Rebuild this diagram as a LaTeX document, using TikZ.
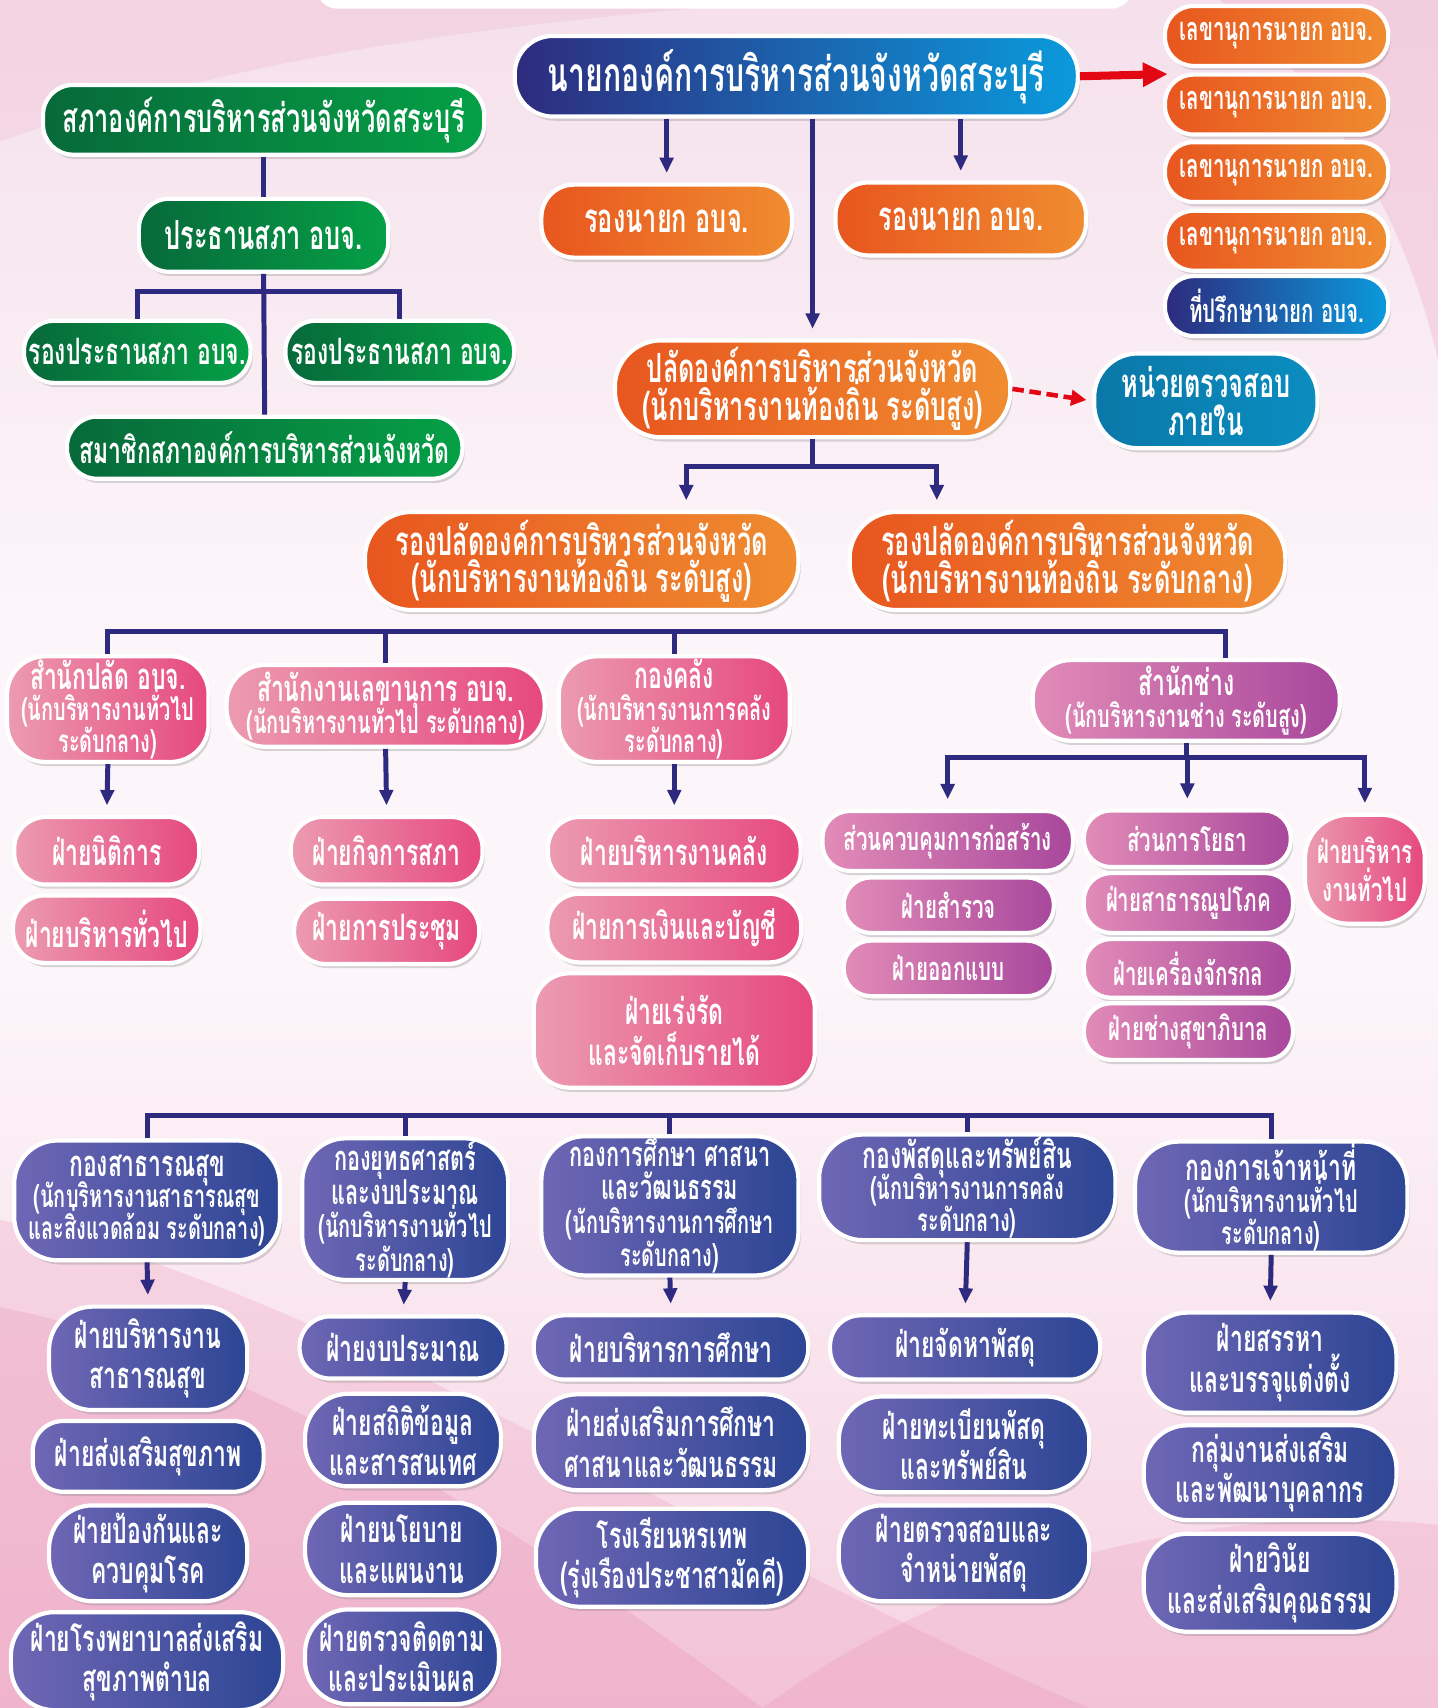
\documentclass[tikz,border=0pt]{standalone}
\usepackage{fontspec}
\setmainfont{Loma}[Script=Thai, FakeStretch=0.63]
\usetikzlibrary{arrows.meta, shadows}

\definecolor{bgtop}{HTML}{F5E0EB}
\definecolor{bgmid}{HTML}{FCF5F9}
\definecolor{bgbot}{HTML}{F6D3E2}
\definecolor{wavepink}{HTML}{E98AB0}
\definecolor{linkblue}{HTML}{2E2A7F}
\definecolor{alertred}{HTML}{E30613}
\definecolor{greenL}{HTML}{07693A}
\definecolor{greenR}{HTML}{05A046}
\definecolor{navyL}{HTML}{2E2B7E}
\definecolor{navyM}{HTML}{0955A6}
\definecolor{cyanR}{HTML}{0A9ADC}
\definecolor{orangeL}{HTML}{E8561F}
\definecolor{orangeR}{HTML}{F08C30}
\definecolor{tealL}{HTML}{0A78A8}
\definecolor{tealR}{HTML}{0B8DC0}
\definecolor{pinkL}{HTML}{EC9BB2}
\definecolor{pinkR}{HTML}{E6487E}
\definecolor{violetL}{HTML}{E28CB8}
\definecolor{violetR}{HTML}{A8479C}
\definecolor{indigoL}{HTML}{6F67B5}
\definecolor{indigoR}{HTML}{2C4594}

\newcommand\thsize[2]{\fontsize{#1}{#2}\selectfont\lineskiplimit=-30pt\bfseries}
\newcommand\subf{\thsize{16.5}{16.5}}

\tikzset{
  box/.style={draw=white, line width=2.2pt, text=white, align=center, inner sep=1pt,
    drop shadow={opacity=0.3, shadow xshift=1.2pt, shadow yshift=-2.2pt}},
  sz/.style 2 args={minimum width=#1*0.02cm, minimum height=#2*0.02cm},
  greenbox/.style={box, left color=greenL, right color=greenR, rounded corners=#1},
  greenbox/.default=0.55cm,
  bluebox/.style={box, left color=navyL, middle color=navyM, right color=cyanR, rounded corners=#1},
  bluebox/.default=0.52cm,
  orangebox/.style={box, left color=orangeL, right color=orangeR, rounded corners=#1},
  orangebox/.default=0.55cm,
  tealbox/.style={box, left color=tealL, right color=tealR, rounded corners=#1},
  tealbox/.default=0.8cm,
  pinkbox/.style={box, left color=pinkL, right color=pinkR, rounded corners=#1},
  pinkbox/.default=0.58cm,
  violetbox/.style={box, left color=violetL, right color=violetR, rounded corners=#1},
  violetbox/.default=0.5cm,
  indigobox/.style={box, left color=indigoL, right color=indigoR, rounded corners=#1},
  indigobox/.default=0.56cm,
  f1/.style={font=\thsize{25}{28}},
  f2/.style={font=\thsize{21}{19.5}},
  f3/.style={font=\thsize{19}{21}},
  f4/.style={font=\thsize{17}{20}},
  hd/.style={font=\thsize{19}{16.5}},
  hdd/.style={font=\thsize{18}{17.5}},
  link/.style={draw=linkblue, line width=2.6pt},
  arrow/.style={link, -{Triangle[length=8pt, width=7pt]}, shorten >=5pt},
  redarrow/.style={draw=alertred, line width=4.2pt, -{Triangle[length=13pt, width=12pt]}}
}

\begin{document}
\begin{tikzpicture}[x=0.02cm, y=-0.02cm]
\useasboundingbox (0,0) rectangle (1320,1568);
\clip (0,0) rectangle (1320,1568);

\fill[top color=bgtop, bottom color=bgmid] (0,0) rectangle (1320,560);
\fill[bgmid] (0,560) rectangle (1320,900);
\fill[top color=bgmid, bottom color=bgbot] (0,900) rectangle (1320,1568);
\fill[wavepink, opacity=0.15] (0,130) .. controls (250,40) and (500,20) .. (720,0) -- (0,0) -- cycle;
\fill[wavepink, opacity=0.22] (1120,0) .. controls (1220,80) and (1290,200) .. (1320,330) -- (1320,0) -- cycle;
\fill[wavepink, opacity=0.22] (0,1120) .. controls (300,1180) and (650,1420) .. (1000,1568) -- (0,1568) -- cycle;
\fill[wavepink, opacity=0.25] (0,1200) .. controls (250,1250) and (500,1420) .. (700,1568) -- (0,1568) -- cycle;
\fill[wavepink, opacity=0.22] (700,1568) .. controls (900,1420) and (1150,1380) .. (1320,1400) -- (1320,1568) -- cycle;
\fill[white, rounded corners=0.4cm] (290,-30) rectangle (1040,8);

\node[greenbox, sz={405}{64}, f2] (sapa) at (242,110) {สภาองค์การบริหารส่วนจังหวัดสระบุรี};
\node[greenbox, sz={229}{67}, f2] (prathan) at (242,216) {ประธานสภา อบจ.};
\node[greenbox, sz={208}{57}, f3] (rong1) at (126,323) {รองประธานสภา อบจ.};
\node[greenbox, sz={210}{57}, f3] (rong2) at (367,323) {รองประธานสภา อบจ.};
\node[greenbox, sz={363}{57}, f3] (member) at (243,411) {สมาชิกสภาองค์การบริหารส่วนจังหวัด};

\node[bluebox=0.7cm, sz={517}{74}, f1] (nayok) at (731,70) {นายกองค์การบริหารส่วนจังหวัดสระบุรี};
\node[orangebox=0.6cm, sz={230}{67}, f2] (rn1) at (612,203) {รองนายก อบจ.};
\node[orangebox=0.6cm, sz={230}{67}, f2] (rn2) at (882,201) {รองนายก อบจ.};
\foreach \i/\y in {1/33,2/96,3/158,4/221}
  \node[orangebox=0.52cm, sz={205}{55}, f4] (sec\i) at (1172,\y) {เลขานุการนายก อบจ.};
\node[bluebox, sz={205}{55}, f4] (advisor) at (1172,281) {ที่ปรึกษานายก อบจ.};

\node[orangebox=0.85cm, sz={363}{89}, f2] (palad) at (746,357) {ปลัดองค์การบริหารส่วนจังหวัด\\(นักบริหารงานท้องถิ่น ระดับสูง)};
\node[tealbox, sz={205}{87}, f2] (audit) at (1107,368) {หน่วยตรวจสอบ\\ภายใน};
\node[orangebox=0.85cm, sz={398}{90}, f2] (dep1) at (534,515) {รองปลัดองค์การบริหารส่วนจังหวัด\\(นักบริหารงานท้องถิ่น ระดับสูง)};
\node[orangebox=0.85cm, sz={400}{90}, f2] (dep2) at (980,515) {รองปลัดองค์การบริหารส่วนจังหวัด\\(นักบริหารงานท้องถิ่น ระดับกลาง)};

\node[pinkbox=0.7cm, sz={185}{97}, hd] (spl) at (99,651) {สำนักปลัด อบจ.\\\subf(นักบริหารงานทั่วไป\\\subf ระดับกลาง)};
\node[pinkbox=0.7cm, sz={292}{75}, hd] (sng) at (354,648) {สำนักงานเลขานุการ อบจ.\\\subf(นักบริหารงานทั่วไป ระดับกลาง)};
\node[pinkbox=0.7cm, sz={212}{97}, hd] (klang) at (619,651) {กองคลัง\\\subf(นักบริหารงานการคลัง\\\subf ระดับกลาง)};
\node[violetbox=0.7cm, sz={282}{74}, hd] (chang) at (1089,643) {สำนักช่าง\\\subf(นักบริหารงานช่าง ระดับสูง)};

\node[pinkbox, sz={170}{62}, f3] (niti) at (98,781) {ฝ่ายนิติการ};
\node[pinkbox, sz={172}{62}, f3] (thuapai) at (98,853) {ฝ่ายบริหารทั่วไป};
\node[pinkbox, sz={176}{62}, f3] (kitsapa) at (355,781) {ฝ่ายกิจการสภา};
\node[pinkbox, sz={170}{60}, f3] (prachum) at (355,855) {ฝ่ายการประชุม};
\node[pinkbox, sz={232}{62}, f3] (bklang) at (619,781) {ฝ่ายบริหารงานคลัง};
\node[pinkbox, sz={233}{63}, f3] (ngoen) at (619,852) {ฝ่ายการเงินและบัญชี};
\node[pinkbox=0.65cm, sz={258}{105}, f3] (raidai) at (619,946) {ฝ่ายเร่งรัด\\และจัดเก็บรายได้};

\node[violetbox, sz={230}{55}, f4] (kumkan) at (870,772) {ส่วนควบคุมการก่อสร้าง};
\node[violetbox, sz={193}{51}, f4] (samruat) at (871,831) {ฝ่ายสำรวจ};
\node[violetbox, sz={193}{51}, f4] (okbaep) at (871,889) {ฝ่ายออกแบบ};
\node[violetbox, sz={190}{52}, f4] (yotha) at (1090,770) {ส่วนการโยธา};
\node[violetbox, sz={192}{55}, f4] (upaphok) at (1091,829) {ฝ่ายสาธารณูปโภค};
\node[violetbox, sz={192}{54}, f4] (chakkon) at (1091,889) {ฝ่ายเครื่องจักรกล};
\node[violetbox, sz={192}{52}, f4] (sukha) at (1091,947) {ฝ่ายช่างสุขาภิบาล};
\node[pinkbox=0.8cm, sz={110}{100}, f4] (bngan) at (1253,798) {ฝ่ายบริหาร\\งานทั่วไป};

\node[indigobox=0.8cm, sz={244}{110}, hd] (k1) at (135,1102) {กองสาธารณสุข\\\subf(นักบริหารงานสาธารณสุข\\\subf และสิ่งแวดล้อม ระดับกลาง)};
\node[indigobox=0.8cm, sz={189}{130}, hdd] (k2) at (372,1110) {กองยุทธศาสตร์\\และงบประมาณ\\\subf(นักบริหารงานทั่วไป\\\subf ระดับกลาง)};
\node[indigobox=0.8cm, sz={236}{120}, hdd] (k3) at (615,1107) {กองการศึกษา ศาสนา\\และวัฒนธรรม\\\subf(นักบริหารงานการศึกษา\\\subf ระดับกลาง)};
\node[indigobox=0.8cm, sz={272}{90}, hd] (k4) at (888,1090) {กองพัสดุและทรัพย์สิน\\\subf(นักบริหารงานการคลัง\\\subf ระดับกลาง)};
\node[indigobox=0.8cm, sz={250}{102}, hd] (k5) at (1167,1099) {กองการเจ้าหน้าที่\\\subf(นักบริหารงานทั่วไป\\\subf ระดับกลาง)};

\node[indigobox=0.8cm, sz={182}{95}, f3] (c11) at (136,1247) {ฝ่ายบริหารงาน\\สาธารณสุข};
\node[indigobox, sz={212}{65}, f3] (c12) at (136,1337) {ฝ่ายส่งเสริมสุขภาพ};
\node[indigobox=0.8cm, sz={182}{88}, f3] (c13) at (136,1426) {ฝ่ายป้องกันและ\\ควบคุมโรค};
\node[indigobox=0.8cm, sz={250}{90}, f3] (c14) at (135,1525) {ฝ่ายโรงพยาบาลส่งเสริม\\สุขภาพตำบล};
\node[indigobox, sz={190}{57}, f3] (c21) at (370,1237) {ฝ่ายงบประมาณ};
\node[indigobox=0.8cm, sz={180}{85}, f3] (c22) at (370,1322) {ฝ่ายสถิติข้อมูล\\และสารสนเทศ};
\node[indigobox=0.8cm, sz={178}{85}, f3] (c23) at (369,1422) {ฝ่ายนโยบาย\\และแผนงาน};
\node[indigobox=0.8cm, sz={178}{87}, f3] (c24) at (369,1521) {ฝ่ายตรวจติดตาม\\และประเมินผล};
\node[indigobox, sz={252}{59}, f3] (c31) at (616,1237) {ฝ่ายบริหารการศึกษา};
\node[indigobox=0.8cm, sz={252}{88}, f3] (c32) at (616,1324) {ฝ่ายส่งเสริมการศึกษา\\ศาสนาและวัฒนธรรม};
\node[indigobox=0.8cm, sz={250}{90}, f3] (c33) at (617,1430) {โรงเรียนหรเทพ\\(รุ่งเรืองประชาสามัคคี)};
\node[indigobox, sz={248}{59}, f3] (c41) at (886,1237) {ฝ่ายจัดหาพัสดุ};
\node[indigobox=0.8cm, sz={230}{88}, f3] (c42) at (885,1326) {ฝ่ายทะเบียนพัสดุ\\และทรัพย์สิน};
\node[indigobox=0.8cm, sz={230}{88}, f3] (c43) at (885,1426) {ฝ่ายตรวจสอบและ\\จำหน่ายพัสดุ};
\node[indigobox=0.8cm, sz={232}{92}, f3] (c51) at (1166,1251) {ฝ่ายสรรหา\\และบรรจุแต่งตั้ง};
\node[indigobox=0.8cm, sz={232}{87}, f3] (c52) at (1166,1352) {กลุ่มงานส่งเสริม\\และพัฒนาบุคลากร};
\node[indigobox=0.8cm, sz={232}{90}, f3] (c53) at (1166,1453) {ฝ่ายวินัย\\และส่งเสริมคุณธรรม};

\draw[link] (sapa.south) -- (prathan.north);
\draw[link] (prathan.south) -- (member.north);
\draw[link] (rong1.north) |- (prathan.south |- 0,268) -| (rong2.north);

\draw[arrow] (nayok.south -| rn1.north) -- (rn1.north);
\draw[arrow] (nayok.south -| rn2.north) -- (rn2.north);
\draw[arrow] (nayok.south -| palad.north) -- (palad.north);
\coordinate (secin) at (1072,68);
\draw[redarrow] (nayok.east) -- (secin);
\draw[draw=alertred, line width=2.4pt, dash pattern=on 6pt off 3pt, -{Triangle[length=8pt, width=8pt]}, shorten >=3pt] (palad.east) -- (audit.west);

\coordinate (pj) at (palad.south |- 0,428);
\draw[link] (palad.south) -- (pj);
\draw[arrow] (pj) -| (dep1.north -| 630,0);
\draw[arrow] (pj) -| (dep2.north -| 860,0);

\draw[link] (spl.north) -- (spl.north |- 0,580) -| (chang.north -| 1125,0);
\draw[link] (sng.north) -- (sng.north |- 0,580);
\draw[link] (klang.north) -- (klang.north |- 0,580);
\draw[arrow] (spl.south) -- (niti.north);
\draw[arrow] (sng.south) -- (kitsapa.north);
\draw[arrow] (klang.south) -- (bklang.north);

\coordinate (cj) at (chang.south |- 0,695);
\draw[link] (chang.south) -- (cj);
\draw[arrow] (cj) -| (kumkan.north);
\draw[arrow] (cj) -| (yotha.north);
\draw[arrow] (cj) -| (bngan.north);

\draw[link] (k1.north) -- (k1.north |- 0,1024) -| (k5.north);
\foreach \k in {k2,k3,k4}
  \draw[link] (\k.north) -- (\k.north |- 0,1024);
\foreach \k/\c in {k1/c11,k2/c21,k3/c31,k4/c41,k5/c51}
  \draw[arrow] (\k.south) -- (\c.north);

\end{tikzpicture}
\end{document}
